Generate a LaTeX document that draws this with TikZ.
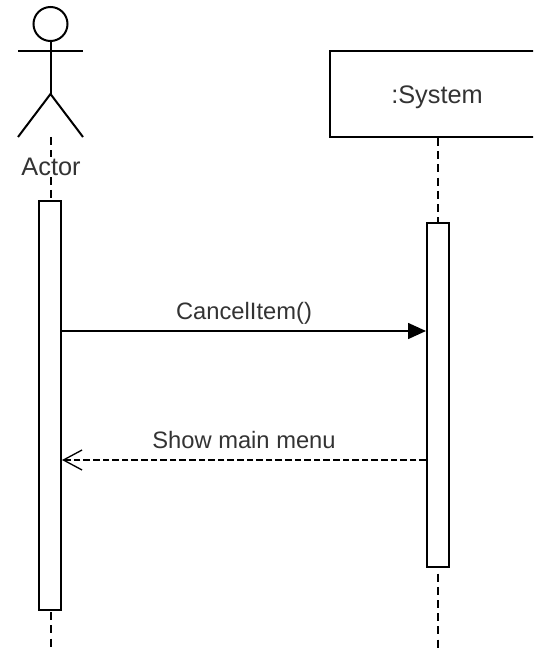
\documentclass[tikz,border=0pt]{standalone}
\usepackage{fontspec}
\setmainfont{Liberation Sans}
\usetikzlibrary{arrows.meta}
\definecolor{inkgray}{gray}{0.2}
\begin{document}
\begin{tikzpicture}[x = 0.75pt,
                y = -0.75pt,
                line width=1.5pt,
                lifeline/.style = {line width=1.5pt, dash pattern=on 6pt off 3.9pt},
                activation/.style = {draw, fill=white, minimum width=16.5pt, inner sep=0pt},
                participant/.style = {draw, inner sep=0pt, font=\fontsize{19}{22}\selectfont, text=inkgray},
                msg/.style = {font=\fontsize{17.8}{21}\selectfont, text=inkgray, inner sep=0pt, anchor=base, yshift=9pt},
                callmsg/.style = {line width=1.2pt, -{Triangle[length=13.5pt,width=12pt]}},
                replymsg/.style = {line width=1.1pt, dash pattern=on 5pt off 2.2pt, -{Straight Barb[length=14pt,width=15pt,line width=1pt]}}]
            \clip (0, 0) rectangle (533, 649);
            % actor figure
            \node [draw, circle, minimum size=25.5pt, inner sep=0pt] (head) at (50.5, 24) {};
            \coordinate (hip) at (50.5, 94);
            \coordinate (handl) at (18, 51);
            \coordinate (handr) at (83, 51);
            \coordinate (footl) at (18, 137);
            \coordinate (footr) at (83, 137);
            \coordinate (actorfoot) at (50.5, 137);
            \coordinate (actorend) at (50.5, 649);
            \draw (head.south) -- (hip);
            \draw (handl) -- (handr);
            \draw (footl) -- (hip) -- (footr);
            % system box, runs off the page
            \node [participant, minimum width=162pt, minimum height=64.5pt] (system) at (438, 94) {};
            \node [font=\fontsize{19}{22}\selectfont, text=inkgray, inner sep=0pt] (systemlabel) at (437, 97) {:System};
            \coordinate (systemend) at (438, 649);
            % lifelines
            \draw [lifeline] (actorfoot) -- (actorend);
            \draw [lifeline] (system.south) -- (systemend);
            \node [fill=white, font=\fontsize{19}{22}\selectfont, text=inkgray, inner sep=1pt] (actorlabel) at (51, 167) {Actor};
            % bars
            \node [activation, minimum height=306.75pt] (actorbar) at (50, 405.5) {};
            \node [activation, minimum height=258pt] (systembar) at (438, 395) {};
            % messages
            \coordinate (calls) at (actorbar.east |- 0, 331);
            \coordinate (callt) at (systembar.west |- 0, 331);
            \coordinate (replys) at (systembar.west |- 0, 460);
            \coordinate (replyt) at (actorbar.east |- 0, 460);
            \draw [callmsg] (calls) -- node [msg] (calllabel) {CancelItem()} (callt);
            \draw [replymsg] (replys) -- node [msg] (replylabel) {Show main menu} (replyt);
        \end{tikzpicture}
\end{document}
